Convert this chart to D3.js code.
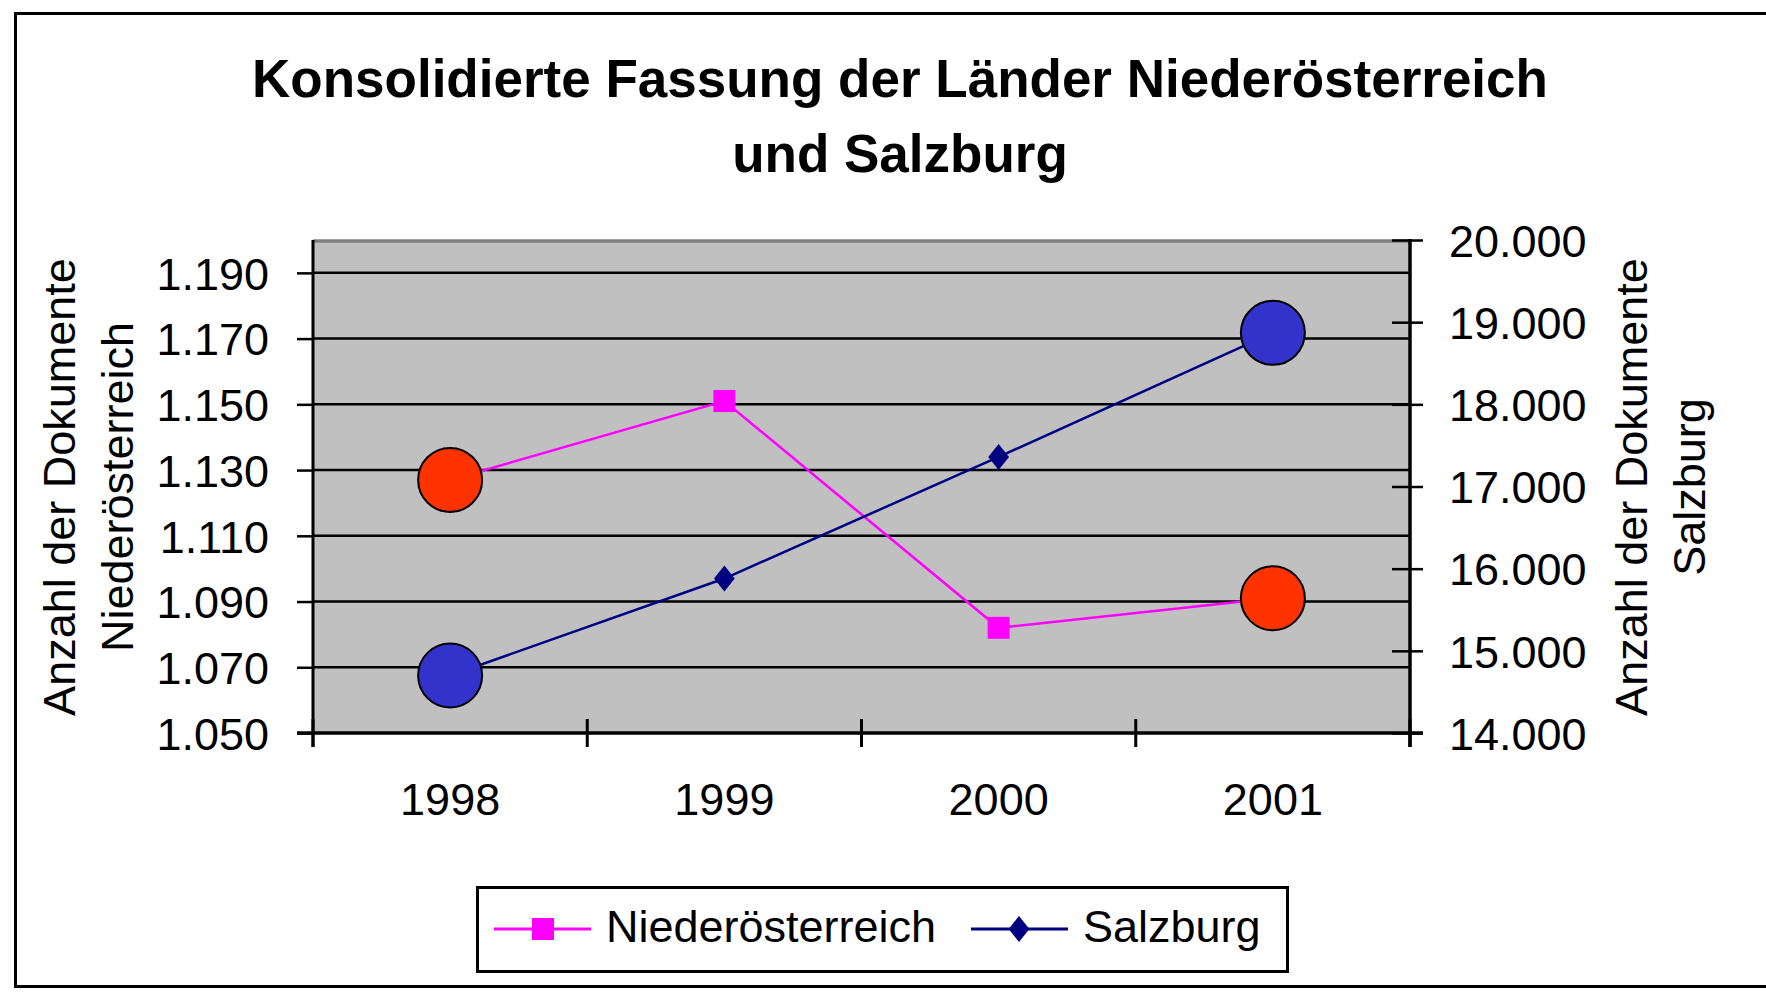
<!DOCTYPE html>
<html>
<head>
<meta charset="utf-8">
<script src="https://cdn.jsdelivr.net/npm/d3@7"></script>
<style>
  html, body { margin: 0; padding: 0; background: #fff; }
  svg { display: block; }
  text { font-family: "Liberation Sans", Arial, sans-serif; fill: #000; }
</style>
</head>
<body>
<svg id="chart" width="1766" height="994"></svg>
<script>
// Documents per year (consolidated versions)
const years = ["1998", "1999", "2000", "2001"];
const niederoesterreich = [1127, 1151, 1082, 1091];
const salzburg = [14700, 15880, 17360, 18870];

// Axis ticks
const leftTicks = [1050, 1070, 1090, 1110, 1130, 1150, 1170, 1190];
const rightTicks = [14000, 15000, 16000, 17000, 18000, 19000, 20000];

// Years whose points are emphasised with a large circle
const highlightYears = ["1998", "2001"];

const titleLines = ["Konsolidierte Fassung der Länder Niederösterreich", "und Salzburg"];
const leftTitle = ["Anzahl der Dokumente", "Niederösterreich"];
const rightTitle = ["Anzahl der Dokumente", "Salzburg"];
const seriesNames = ["Niederösterreich", "Salzburg"];

// German number formatting (1.190 / 20.000)
const de = d3.formatLocale({ decimal: ",", thousands: ".", grouping: [3], currency: ["", " €"] });
const fmt = de.format(",d");

const svg = d3.select("#chart");
const W = 1766, H = 994;
const plot = { left: 313, right: 1410, top: 241, bottom: 733 };
const FONT = 45;

const x = d3.scaleBand().domain(years).range([plot.left, plot.right]);
const yL = d3.scaleLinear().domain([1050, 1200]).range([plot.bottom, plot.top - 1]);
const yR = d3.scaleLinear().domain([14000, 20000]).range([plot.bottom, plot.top - 1]);
const cx = d => x(d) + x.bandwidth() / 2;

// Outer chart frame
svg.append("rect")
  .attr("x", 15.5).attr("y", 13.5)
  .attr("width", W).attr("height", 973)
  .attr("fill", "#fff").attr("stroke", "#000").attr("stroke-width", 3);

// Title
svg.append("g").selectAll("text").data(titleLines).join("text")
  .attr("x", 900).attr("y", (d, i) => 97 + i * 75)
  .attr("text-anchor", "middle")
  .attr("font-size", 53).attr("font-weight", "bold")
  .text(d => d);

// Plot area background
svg.append("rect")
  .attr("x", plot.left).attr("y", plot.top)
  .attr("width", plot.right - plot.left).attr("height", plot.bottom - plot.top)
  .attr("fill", "#C0C0C0");
svg.append("line")
  .attr("x1", plot.left).attr("x2", plot.right)
  .attr("y1", plot.top).attr("y2", plot.top)
  .attr("stroke", "#808080").attr("stroke-width", 3.5);

// Horizontal gridlines on the primary axis
svg.append("g").selectAll("line").data(leftTicks.slice(1)).join("line")
  .attr("x1", plot.left).attr("x2", plot.right)
  .attr("y1", d => yL(d)).attr("y2", d => yL(d))
  .attr("stroke", "#000").attr("stroke-width", 2.5);

// Left (primary) axis
const axL = svg.append("g")
  .attr("transform", `translate(${plot.left},0)`)
  .call(d3.axisLeft(yL).tickValues(leftTicks).tickFormat(fmt).tickSize(16).tickPadding(28));
axL.select(".domain").remove();
axL.selectAll(".tick line").attr("stroke", "#000").attr("stroke-width", 2.5);
axL.selectAll(".tick text")
  .attr("font-family", "Liberation Sans, Arial, sans-serif")
  .attr("font-size", FONT).attr("fill", "#000")
  .attr("dy", "0.36em");

// Right (secondary) axis
const axR = svg.append("g")
  .attr("transform", `translate(${plot.right},0)`)
  .call(d3.axisRight(yR).tickValues(rightTicks).tickFormat(fmt).tickSize(13).tickPadding(26));
axR.select(".domain").remove();
axR.selectAll(".tick line").attr("x1", -18).attr("stroke", "#000").attr("stroke-width", 2.5);
axR.selectAll(".tick text")
  .attr("font-family", "Liberation Sans, Arial, sans-serif")
  .attr("font-size", FONT).attr("fill", "#000")
  .attr("dy", "0.36em");

// Category axis with crossing ticks at band edges
const axX = svg.append("g")
  .attr("transform", `translate(0,${plot.bottom})`)
  .call(d3.axisBottom(x).tickSize(0).tickPadding(50));
axX.select(".domain").remove();
axX.selectAll(".tick text")
  .attr("font-family", "Liberation Sans, Arial, sans-serif")
  .attr("font-size", FONT).attr("fill", "#000")
  .attr("dy", "0.71em");
const edges = years.map(d => x(d)).concat([x(years[years.length - 1]) + x.bandwidth()]);
svg.append("g").selectAll("line").data(edges).join("line")
  .attr("x1", d => d).attr("x2", d => d)
  .attr("y1", plot.bottom - 14).attr("y2", plot.bottom + 14)
  .attr("stroke", "#000").attr("stroke-width", 3);

// Axis lines
svg.append("line")
  .attr("x1", plot.left - 16).attr("x2", plot.right + 13)
  .attr("y1", plot.bottom).attr("y2", plot.bottom)
  .attr("stroke", "#000").attr("stroke-width", 3.5);
svg.append("line")
  .attr("x1", plot.left).attr("x2", plot.left)
  .attr("y1", plot.top - 1).attr("y2", plot.bottom + 14)
  .attr("stroke", "#000").attr("stroke-width", 3);
svg.append("line")
  .attr("x1", plot.right).attr("x2", plot.right)
  .attr("y1", plot.top - 2).attr("y2", plot.bottom + 14)
  .attr("stroke", "#000").attr("stroke-width", 3.5);

// Axis titles (rotated, two lines each)
function axisTitle(lines, baseX) {
  svg.append("g").selectAll("text").data(lines).join("text")
    .attr("transform", (d, i) => `translate(${baseX + i * 58},${(plot.top + plot.bottom) / 2}) rotate(-90)`)
    .attr("text-anchor", "middle")
    .attr("font-size", FONT)
    .text(d => d);
}
axisTitle(leftTitle, 75);
axisTitle(rightTitle, 1647);

// Series
const pink = "#FF00FF", navy = "#000080";
const diamond = {
  draw(ctx, size) {
    const h = Math.sqrt(size) / 2, w = h * 0.8;
    ctx.moveTo(0, -h); ctx.lineTo(w, 0); ctx.lineTo(0, h); ctx.lineTo(-w, 0); ctx.closePath();
  }
};

const lineN = d3.line().x((d, i) => cx(years[i])).y(d => yL(d));
const lineS = d3.line().x((d, i) => cx(years[i])).y(d => yR(d));

svg.append("path").datum(niederoesterreich)
  .attr("d", lineN).attr("fill", "none").attr("stroke", pink).attr("stroke-width", 2.5);
svg.append("g").selectAll("rect").data(niederoesterreich).join("rect")
  .attr("x", (d, i) => cx(years[i]) - 11).attr("y", d => yL(d) - 11)
  .attr("width", 22).attr("height", 22).attr("fill", pink);

svg.append("path").datum(salzburg)
  .attr("d", lineS).attr("fill", "none").attr("stroke", navy).attr("stroke-width", 2.5);
svg.append("g").selectAll("path").data(salzburg).join("path")
  .attr("transform", (d, i) => `translate(${cx(years[i])},${yR(d)})`)
  .attr("d", d3.symbol().type(diamond).size(26 * 26)).attr("fill", navy);

// Emphasis circles on the first and last year
const hiN = highlightYears.map(yr => ({ yr, v: niederoesterreich[years.indexOf(yr)] }));
const hiS = highlightYears.map(yr => ({ yr, v: salzburg[years.indexOf(yr)] }));
svg.append("g").selectAll("circle").data(hiN).join("circle")
  .attr("cx", d => cx(d.yr)).attr("cy", d => yL(d.v)).attr("r", 32)
  .attr("fill", "#FF3300").attr("stroke", "#000").attr("stroke-width", 2);
svg.append("g").selectAll("circle").data(hiS).join("circle")
  .attr("cx", d => cx(d.yr)).attr("cy", d => yR(d.v)).attr("r", 32)
  .attr("fill", "#3333CC").attr("stroke", "#000").attr("stroke-width", 2);

// Legend
const lg = svg.append("g");
lg.append("rect").attr("x", 477.5).attr("y", 887.5).attr("width", 810).attr("height", 84)
  .attr("fill", "#fff").attr("stroke", "#000").attr("stroke-width", 3);
const legendItems = [
  { name: seriesNames[0], color: pink, x0: 494, tx: 606, kind: "square" },
  { name: seriesNames[1], color: navy, x0: 971, tx: 1083, kind: "diamond" }
];
const ly = 929;
legendItems.forEach(it => {
  lg.append("line").attr("x1", it.x0).attr("x2", it.x0 + 97)
    .attr("y1", ly).attr("y2", ly).attr("stroke", it.color).attr("stroke-width", 3);
  if (it.kind === "square") {
    lg.append("rect").attr("x", it.x0 + 49 - 11).attr("y", ly - 11)
      .attr("width", 22).attr("height", 22).attr("fill", it.color);
  } else {
    lg.append("path").attr("transform", `translate(${it.x0 + 48},${ly})`)
      .attr("d", d3.symbol().type(diamond).size(26 * 26)).attr("fill", it.color);
  }
  lg.append("text").attr("x", it.tx).attr("y", ly + 13)
    .attr("font-size", FONT).text(it.name);
});
</script>
</body>
</html>
